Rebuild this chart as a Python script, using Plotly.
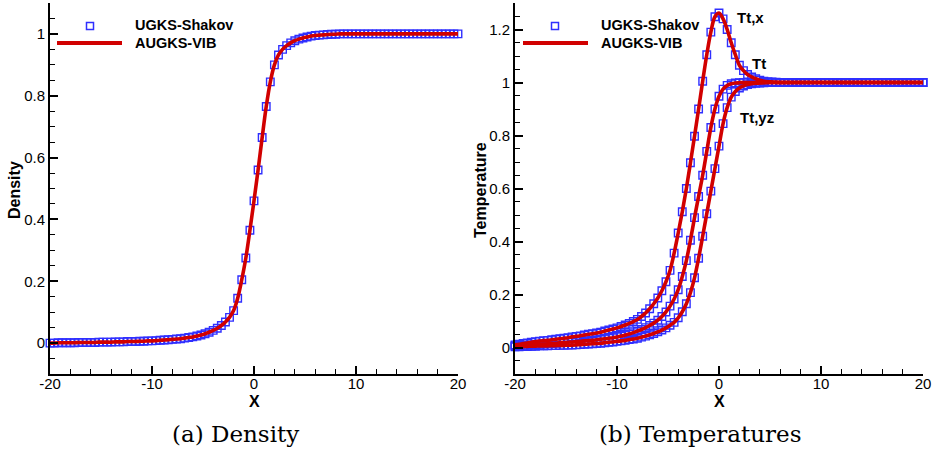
import plotly.graph_objects as go

# ---------------- data ----------------
X = [-20.0, -19.6, -19.2, -18.8, -18.4, -18.0, -17.6, -17.2, -16.8, -16.4,
     -16.0, -15.6, -15.2, -14.8, -14.4, -14.0, -13.6, -13.2, -12.8, -12.4,
     -12.0, -11.6, -11.2, -10.8, -10.4, -10.0, -9.6, -9.2, -8.8, -8.4,
     -8.0, -7.6, -7.2, -6.8, -6.4, -6.0, -5.6, -5.2, -4.8, -4.4,
     -4.0, -3.6, -3.2, -2.8, -2.4, -2.0, -1.6, -1.2, -0.8, -0.4,
     0.0, 0.4, 0.8, 1.2, 1.6, 2.0, 2.4, 2.8, 3.2, 3.6,
     4.0, 4.4, 4.8, 5.2, 5.6, 6.0, 6.4, 6.8, 7.2, 7.6,
     8.0, 8.4, 8.8, 9.2, 9.6, 10.0, 10.4, 10.8, 11.2, 11.6,
     12.0, 12.4, 12.8, 13.2, 13.6, 14.0, 14.4, 14.8, 15.2, 15.6,
     16.0, 16.4, 16.8, 17.2, 17.6, 18.0, 18.4, 18.8, 19.2, 19.6,
     20.0]

DENSITY = [0.000, 0.000, 0.001, 0.001, 0.001, 0.001, 0.001, 0.002, 0.002, 0.002,
           0.002, 0.002, 0.003, 0.003, 0.003, 0.003, 0.004, 0.004, 0.004, 0.005,
           0.005, 0.005, 0.006, 0.006, 0.007, 0.007, 0.008, 0.009, 0.010, 0.011,
           0.012, 0.013, 0.014, 0.016, 0.018, 0.020, 0.023, 0.026, 0.030, 0.035,
           0.041, 0.048, 0.057, 0.068, 0.083, 0.105, 0.145, 0.205, 0.275, 0.365,
           0.460, 0.560, 0.665, 0.765, 0.845, 0.900, 0.932, 0.950, 0.962, 0.971,
           0.978, 0.983, 0.987, 0.990, 0.993, 0.995, 0.996, 0.997, 0.998, 0.999,
           0.999, 1.000, 1.000, 1.000, 1.000, 1.000, 1.000, 1.000, 1.000, 1.000,
           1.000, 1.000, 1.000, 1.000, 1.000, 1.000, 1.000, 1.000, 1.000, 1.000,
           1.000, 1.000, 1.000, 1.000, 1.000, 1.000, 1.000, 1.000, 1.000, 1.000,
           1.000]

TT_X = [0.010, 0.012, 0.015, 0.017, 0.020, 0.022, 0.024, 0.026, 0.027, 0.029,
        0.031, 0.033, 0.035, 0.037, 0.040, 0.042, 0.044, 0.047, 0.050, 0.052,
        0.055, 0.058, 0.062, 0.066, 0.070, 0.074, 0.079, 0.085, 0.091, 0.098,
        0.106, 0.117, 0.130, 0.146, 0.165, 0.187, 0.214, 0.248, 0.291, 0.356,
        0.432, 0.512, 0.600, 0.697, 0.797, 0.900, 1.005, 1.105, 1.190, 1.248,
        1.262, 1.240, 1.200, 1.150, 1.105, 1.065, 1.045, 1.030, 1.021, 1.014,
        1.009, 1.005, 1.003, 1.002, 1.001, 1.000, 1.000, 1.000, 1.000, 1.000,
        1.000, 1.000, 1.000, 1.000, 1.000, 1.000, 1.000, 1.000, 1.000, 1.000,
        1.000, 1.000, 1.000, 1.000, 1.000, 1.000, 1.000, 1.000, 1.000, 1.000,
        1.000, 1.000, 1.000, 1.000, 1.000, 1.000, 1.000, 1.000, 1.000, 1.000,
        1.000]

TT = [0.006, 0.007, 0.008, 0.009, 0.010, 0.011, 0.012, 0.013, 0.014, 0.015,
      0.016, 0.018, 0.019, 0.020, 0.021, 0.022, 0.023, 0.025, 0.026, 0.027,
      0.029, 0.031, 0.033, 0.035, 0.037, 0.040, 0.043, 0.047, 0.051, 0.056,
      0.062, 0.068, 0.075, 0.083, 0.092, 0.103, 0.117, 0.134, 0.156, 0.183,
      0.218, 0.268, 0.328, 0.405, 0.490, 0.570, 0.650, 0.740, 0.830, 0.900,
      0.948, 0.975, 0.989, 0.995, 0.998, 0.999, 1.000, 1.000, 1.000, 1.000,
      1.000, 1.000, 1.000, 1.000, 1.000, 1.000, 1.000, 1.000, 1.000, 1.000,
      1.000, 1.000, 1.000, 1.000, 1.000, 1.000, 1.000, 1.000, 1.000, 1.000,
      1.000, 1.000, 1.000, 1.000, 1.000, 1.000, 1.000, 1.000, 1.000, 1.000,
      1.000, 1.000, 1.000, 1.000, 1.000, 1.000, 1.000, 1.000, 1.000, 1.000,
      1.000]

TT_YZ = [0.003, 0.003, 0.004, 0.004, 0.005, 0.005, 0.006, 0.006, 0.006, 0.007,
         0.007, 0.008, 0.008, 0.009, 0.009, 0.010, 0.011, 0.012, 0.013, 0.014,
         0.015, 0.016, 0.018, 0.020, 0.021, 0.023, 0.025, 0.027, 0.030, 0.032,
         0.035, 0.039, 0.043, 0.048, 0.053, 0.059, 0.066, 0.074, 0.084, 0.095,
         0.112, 0.135, 0.165, 0.207, 0.263, 0.337, 0.420, 0.505, 0.590, 0.675,
         0.760, 0.845, 0.905, 0.945, 0.966, 0.979, 0.987, 0.992, 0.995, 0.997,
         0.998, 0.999, 1.000, 1.000, 1.000, 1.000, 1.000, 1.000, 1.000, 1.000,
         1.000, 1.000, 1.000, 1.000, 1.000, 1.000, 1.000, 1.000, 1.000, 1.000,
         1.000, 1.000, 1.000, 1.000, 1.000, 1.000, 1.000, 1.000, 1.000, 1.000,
         1.000, 1.000, 1.000, 1.000, 1.000, 1.000, 1.000, 1.000, 1.000, 1.000,
         1.000]

X_TICKVALS = [-20, -10, 0, 10, 20]
X_TICKTEXT = ["-20", "-10", "0", "10", "20"]
SERIES_NAMES = ["UGKS-Shakov", "AUGKS-VIB"]
CURVE_LABELS = ["Tt,x", "Tt", "Tt,yz"]
CAPTIONS = ["(a) Density", "(b) Temperatures"]
Y_TITLES = ["Density", "Temperature"]

# ---------------- styling ----------------
W, H = 932, 453
BLUE = "#2f2fff"
RED = "#d10000"
SANS = "Liberation Sans, Arial, sans-serif"
SERIF = "DejaVu Serif, serif"


def px(p):
    return p / W


def py(p):
    return 1 - p / H


fig = go.Figure()

marker_style = dict(symbol="square-open", size=7.5, color=BLUE, line=dict(width=1.4, color=BLUE))
line_style = dict(color=RED, width=3.6, shape="spline")

# left panel: density
fig.add_trace(go.Scatter(x=X, y=DENSITY, mode="markers", marker=marker_style,
                         name=SERIES_NAMES[0], showlegend=False, cliponaxis=False,
                         xaxis="x", yaxis="y"))
fig.add_trace(go.Scatter(x=X, y=DENSITY, mode="lines", line=line_style,
                         name=SERIES_NAMES[1], showlegend=False, cliponaxis=False,
                         xaxis="x", yaxis="y"))

# right panel: temperatures
for ser in (TT_X, TT, TT_YZ):
    fig.add_trace(go.Scatter(x=X, y=ser, mode="markers", marker=marker_style,
                             name=SERIES_NAMES[0], showlegend=False, cliponaxis=False,
                             xaxis="x2", yaxis="y2"))
for ser in (TT_X, TT, TT_YZ):
    fig.add_trace(go.Scatter(x=X, y=ser, mode="lines", line=line_style,
                             name=SERIES_NAMES[1], showlegend=False, cliponaxis=False,
                             xaxis="x2", yaxis="y2"))

tickfont = dict(family=SANS, size=15, color="black")
common_x = dict(range=[-20, 20], tickmode="array", tickvals=X_TICKVALS, ticktext=X_TICKTEXT,
                ticks="inside", ticklen=8, tickwidth=1.5, tickcolor="black",
                minor=dict(tickmode="linear", tick0=-20, dtick=2, ticks="inside", ticklen=5,
                           tickwidth=1.2, tickcolor="black"),
                showline=True, linewidth=2, linecolor="black", showgrid=False,
                zeroline=False, tickfont=tickfont, fixedrange=True, automargin=False,
                ticklabelstandoff=-5)
common_y = dict(tickmode="linear", tick0=0, dtick=0.2,
                ticks="inside", ticklen=8, tickwidth=1.5, tickcolor="black",
                minor=dict(tickmode="linear", tick0=0, dtick=0.05, ticks="inside", ticklen=5,
                           tickwidth=1.2, tickcolor="black"),
                showline=True, linewidth=2, linecolor="black", showgrid=False,
                zeroline=False, tickfont=tickfont, fixedrange=True, automargin=False)

y_dom = [py(374), py(3)]
fig.update_layout(
    width=W, height=H, margin=dict(l=0, r=0, t=0, b=0, pad=0, autoexpand=False),
    paper_bgcolor="white", plot_bgcolor="white", showlegend=False,
    xaxis=dict(domain=[px(50), px(458)], anchor="y", **common_x),
    yaxis=dict(domain=y_dom, anchor="x", range=[-0.1, 1.1], **common_y),
    xaxis2=dict(domain=[px(515), px(923)], anchor="y2", **common_x),
    yaxis2=dict(domain=y_dom, anchor="x2", range=[-0.1, 1.3], **common_y),
)

annotations = []
shapes = []
bold = dict(family=SANS, size=16, color="black")

# axis titles
for cx in (254, 719):
    annotations.append(dict(x=px(cx), y=py(401), xref="paper", yref="paper", text="<b>X</b>",
                            showarrow=False, font=bold, xanchor="center", yanchor="middle",
                            borderpad=0))
annotations.append(dict(x=px(15), y=py(190), xref="paper", yref="paper", text="<b>%s</b>" % Y_TITLES[0],
                        showarrow=False, font=bold, textangle=-90, xanchor="center", yanchor="middle"))
annotations.append(dict(x=px(481), y=py(190), xref="paper", yref="paper", text="<b>%s</b>" % Y_TITLES[1],
                        showarrow=False, font=bold, textangle=-90, xanchor="center", yanchor="middle"))

# captions
annotations.append(dict(x=px(235), y=py(434), xref="paper", yref="paper", text=CAPTIONS[0],
                        showarrow=False, font=dict(family=SERIF, size=23, color="black"),
                        xanchor="center", yanchor="middle"))
annotations.append(dict(x=px(700), y=py(434), xref="paper", yref="paper", text=CAPTIONS[1],
                        showarrow=False, font=dict(family=SERIF, size=23, color="black"),
                        xanchor="center", yanchor="middle"))

# curve labels (right panel)
lab_font = dict(family=SANS, size=15, color="black")
for text, (cx, cy) in zip(CURVE_LABELS, [(750, 18), (759, 63), (757, 117)]):
    annotations.append(dict(x=px(cx), y=py(cy), xref="paper", yref="paper", text="<b>%s</b>" % text,
                            showarrow=False, font=lab_font, xanchor="center", yanchor="middle"))

# legends (drawn manually to mimic the Tecplot legend layout)
leg_font = dict(family=SANS, size=14.5, color="black")
for sq_x, txt_x, l0, l1 in [(90, 133, 57, 122), (555, 599, 523, 588)]:
    shapes.append(dict(type="rect", xref="paper", yref="paper",
                       x0=px(sq_x - 3.5), x1=px(sq_x + 3.5), y0=py(26 + 3.5), y1=py(26 - 3.5),
                       line=dict(color=BLUE, width=1.5), fillcolor="rgba(0,0,0,0)"))
    shapes.append(dict(type="line", xref="paper", yref="paper",
                       x0=px(l0), x1=px(l1), y0=py(43), y1=py(43),
                       line=dict(color=RED, width=4)))
    annotations.append(dict(x=px(txt_x), y=py(25), xref="paper", yref="paper",
                            text="<b>%s</b>" % SERIES_NAMES[0], showarrow=False, font=leg_font,
                            xanchor="left", yanchor="middle"))
    annotations.append(dict(x=px(txt_x), y=py(43), xref="paper", yref="paper",
                            text="<b>%s</b>" % SERIES_NAMES[1], showarrow=False, font=leg_font,
                            xanchor="left", yanchor="middle"))

fig.update_layout(annotations=annotations, shapes=shapes)

fig.write_html("out.html",
               post_script="document.body.style.margin='0';document.body.style.padding='0';")
